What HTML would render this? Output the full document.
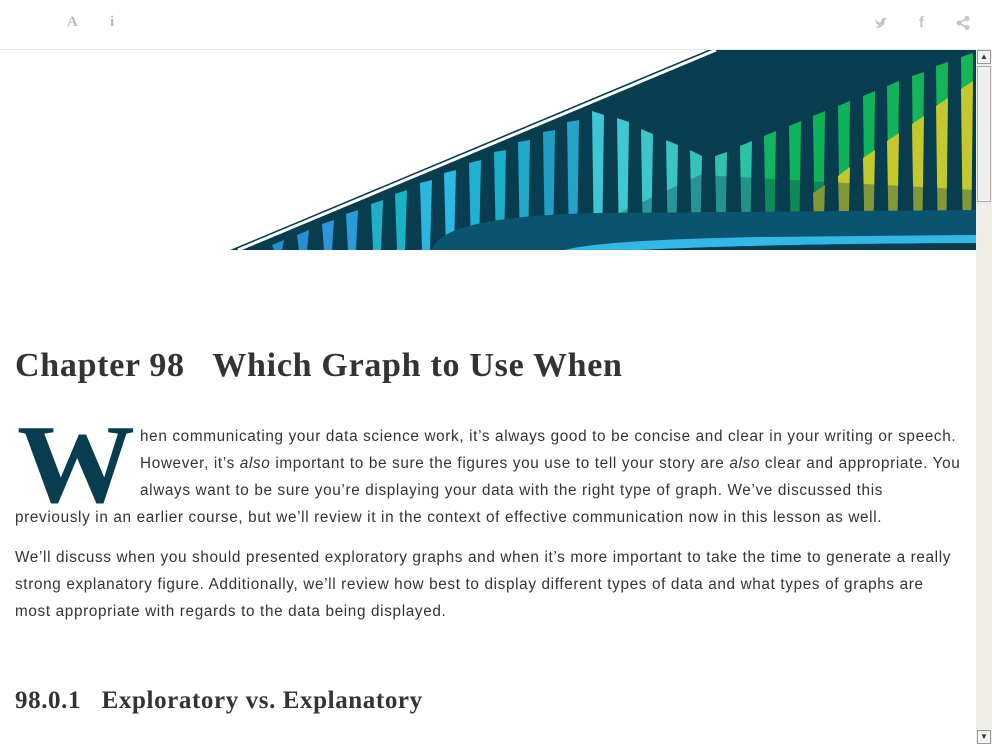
<!DOCTYPE html>
<html><head><meta charset="utf-8"><style>
body{margin:0;width:992px;height:744px;overflow:hidden;background:#fff;position:relative;font-family:"Liberation Sans",sans-serif;color:#333}
.topbar{position:absolute;left:0;top:0;width:992px;height:49px;border-bottom:1px solid #e8e8e8;background:#fff}
.ic{position:absolute;top:14px;color:#bbb;font-size:15px;font-weight:bold}
.l{position:absolute;font-size:15.3px;white-space:nowrap;letter-spacing:0.65px}
h1,h2{margin:0;position:absolute;font-family:"Liberation Serif",serif;font-weight:bold;color:#333;white-space:nowrap}
</style></head><body>
<div class="topbar">
<span class="ic" style="left:67px;font-family:'Liberation Serif',serif">A</span>
<span class="ic" style="left:110px;font-family:'Liberation Serif',serif">i</span>
<svg style="position:absolute;left:874px;top:16px" width="14" height="14"><path d="M1,3 Q4,7 7,6 Q7,2 10,2 L13,2 L11,4 Q11,10 4,12 Q2,12 1,11 Q4,11 5,9 Q2,8 2,6 Q1,5 1,3Z" fill="#c4c4c4"/></svg>
<span class="ic" style="left:919px;font-family:'Liberation Sans',sans-serif;color:#c4c4c4">f</span>
<svg style="position:absolute;left:956px;top:16px" width="14" height="14"><circle cx="11" cy="2.5" r="2.5" fill="#c4c4c4"/><circle cx="3" cy="7" r="2.5" fill="#c4c4c4"/><circle cx="11" cy="11.5" r="2.5" fill="#c4c4c4"/><path d="M11,2.5 L3,7 L11,11.5" stroke="#c4c4c4" stroke-width="1.8" fill="none"/></svg>
</div>
<svg id="banner" style="position:absolute;left:0;top:0" width="976" height="250">
<polygon points="230,250 708,50 976,50 976,250" fill="#073d4e"/>
<line x1="238" y1="250" x2="716" y2="50" stroke="#fff" stroke-width="3"/>
<g fill="#2a8fd0">
<polygon points="272,245 284,240 282,250 274,250" fill="#2a8fd0"/>
<polygon points="297,235 309,230 307,250 299,250" fill="#2a8fd0"/>
<polygon points="322,224 334,220 332,250 324,250" fill="#2f95d6"/>
<polygon points="346,214 358,210 356,250 348,250" fill="#2a9ad8"/>
<polygon points="371,204 383,200 381,250 373,250" fill="#1fb0c6"/>
<polygon points="395,194 407,190 405,250 397,250" fill="#18b3c4"/>
<polygon points="420,183 432,180 430,250 422,250" fill="#2bb5df"/>
<polygon points="444,173 456,170 454,250 446,250" fill="#2cb7e4"/>
<polygon points="469,163 481,160 479,250 471,250" fill="#22b0d2"/>
<polygon points="494,152 506,150 504,250 496,250" fill="#1cadc8"/>
<polygon points="518,142 530,140 528,250 520,250" fill="#1fa8c8"/>
<polygon points="543,132 555,130 553,250 545,250" fill="#209ec4"/>
<polygon points="567,122 579,120 577,250 569,250" fill="#25a2c8"/>
<polygon points="592,111 604,115 602,250 594,250" fill="#3fc6d6"/>
<polygon points="617,118 629,122 627,250 619,250" fill="#3ec8d2"/>
<polygon points="641,129 653,134 651,250 643,250" fill="#3cc6c8"/>
<polygon points="666,140 678,145 676,250 668,250" fill="#3ac4c2"/>
<polygon points="690,150 702,156 700,250 692,250" fill="#36c2b8"/>
<polygon points="715,156 727,152 725,250 717,250" fill="#33c1ae"/>
<polygon points="740,146 752,141 750,250 742,250" fill="#2dc2a4"/>
<polygon points="764,136 776,131 774,250 766,250" fill="#12b462"/>
<polygon points="789,126 801,121 799,250 791,250" fill="#11b35c"/>
<polygon points="813,116 825,111 823,250 815,250" fill="#10b35a"/>
<polygon points="838,106 850,101 848,250 840,250" fill="#10b35a"/>
<polygon points="863,96 875,91 873,250 865,250" fill="#12b45a"/>
<polygon points="887,86 899,81 897,250 889,250" fill="#12b45a"/>
<polygon points="912,76 924,72 922,250 914,250" fill="#14b558"/>
<polygon points="936,66 948,62 946,250 938,250" fill="#14b558"/>
<polygon points="961,57 973,53 971,250 963,250" fill="#16b656"/>
</g>
<g fill="#c4c82c">
<polygon points="813,193 825,185 823,250 815,250"/>
<polygon points="838,176 850,167 848,250 840,250"/>
<polygon points="863,158 875,150 873,250 865,250"/>
<polygon points="887,141 899,133 897,250 889,250"/>
<polygon points="912,124 924,116 922,250 914,250"/>
<polygon points="936,106 948,98 946,250 938,250"/>
<polygon points="961,89 973,81 971,250 963,250"/>
</g>
<polygon points="540,250 700,175 976,190 976,250" fill="#0a3f50" opacity="0.35"/>
<path d="M432,250 Q440,216 600,213 L976,210 L976,250 Z" fill="#0b5470"/>
<path d="M565,250 Q600,240 760,237 L976,235 L976,243 Q760,244 640,250 Z" fill="#35b7e6"/>
<path d="M640,250 Q760,244 976,243 L976,250 Z" fill="#073d4e"/>
</svg>
<div style="position:absolute;left:976px;top:50px;width:16px;height:694px;background:#f0ede8">
<div style="position:absolute;left:1px;top:0;width:14px;height:14px;background:#f4f4f4;border:1px solid #999;box-sizing:border-box;font-size:8px;text-align:center;line-height:12px">▲</div>
<div style="position:absolute;left:1px;top:16px;width:14px;height:136px;background:#efefef;border:1px solid #aaa;box-sizing:border-box"></div>
<div style="position:absolute;left:1px;top:680px;width:14px;height:14px;background:#f4f4f4;border:1px solid #999;box-sizing:border-box;font-size:8px;text-align:center;line-height:12px">▼</div>
</div>
<h1 style="left:15px;top:347px;font-size:34px;letter-spacing:0.7px">Chapter 98&nbsp;&nbsp;&nbsp;Which Graph to Use When</h1>
<div style="position:absolute;left:17px;top:395px;font-family:'Liberation Serif',serif;font-weight:bold;font-size:118px;color:#073d4e;line-height:140px;transform:scaleY(0.95)">W</div>
<div>
<div class="l" style="left:140px;top:428px">hen communicating your data science work, it’s always good to be concise and clear in your writing or speech.</div>
<div class="l" style="left:140px;top:455px">However, it’s <i>also</i> important to be sure the figures you use to tell your story are <i>also</i> clear and appropriate. You</div>
<div class="l" style="left:140px;top:482px">always want to be sure you’re displaying your data with the right type of graph. We’ve discussed this</div>
<div class="l" style="left:15px;top:509px">previously in an earlier course, but we’ll review it in the context of effective communication now in this lesson as well.</div>
</div>
<div>
<div class="l" style="left:15px;top:549px">We’ll discuss when you should presented exploratory graphs and when it’s more important to take the time to generate a really</div>
<div class="l" style="left:15px;top:576px">strong explanatory figure. Additionally, we’ll review how best to display different types of data and what types of graphs are</div>
<div class="l" style="left:15px;top:603px">most appropriate with regards to the data being displayed.</div>
</div>
<h2 style="left:15px;top:687px;font-size:25px;letter-spacing:0.6px">98.0.1&nbsp;&nbsp;&nbsp;Exploratory vs. Explanatory</h2>
</body></html>
